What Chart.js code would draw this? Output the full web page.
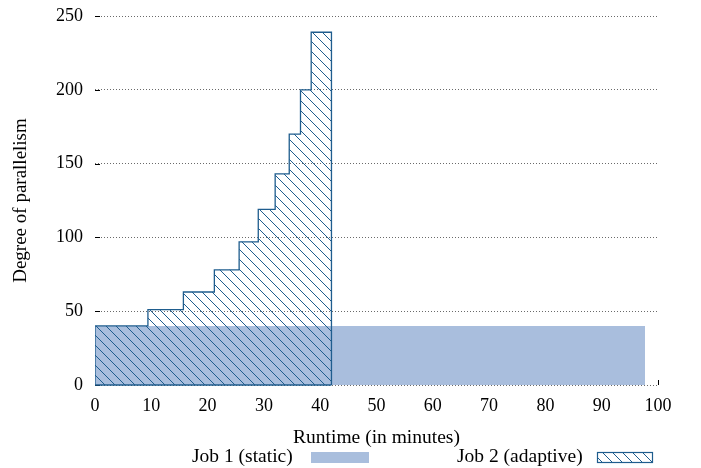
<!DOCTYPE html>
<html>
<head>
<meta charset="utf-8">
<script src="https://cdn.jsdelivr.net/npm/chart.js@4.4.1/dist/chart.umd.min.js"></script>
<style>
  html, body { margin: 0; padding: 0; background: #fff; }
  #wrap { width: 701px; height: 468px; }
</style>
</head>
<body>
<div id="wrap"><canvas id="chart" width="701" height="468"></canvas></div>
<script>
// step starts (minutes) and degree of parallelism for the adaptive job
const adaptiveStarts = [0, 9.4, 15.7, 21.2, 25.6, 29, 32, 34.5, 36.5, 38.4]
const adaptiveLevels = [40, 51, 63, 78, 97, 119, 143, 170, 200, 239]
const adaptiveEnd = 42

// static job: constant parallelism until it finishes
const staticLevel = 40
const staticEnd = 97.7

const xTicks = [0, 10, 20, 30, 40, 50, 60, 70, 80, 90, 100]
const yTicks = [0, 50, 100, 150, 200, 250]
const legendLabels = ['Job 1 (static)', 'Job 2 (adaptive)']

const darkBlue = '#1f5d8e'
const lightBlue = '#a9bedd'
const serif = "'Liberation Serif', 'DejaVu Serif', serif"

function hatchPattern() {
  const c = document.createElement('canvas')
  c.width = 10
  c.height = 10
  const g = c.getContext('2d')
  g.strokeStyle = darkBlue
  g.lineWidth = 1
  g.beginPath()
  g.moveTo(-1, -1); g.lineTo(11, 11)
  g.moveTo(-1, 9); g.lineTo(1, 11)
  g.moveTo(9, -1); g.lineTo(11, 1)
  g.stroke()
  return g.createPattern(c, 'repeat')
}
const hatch = hatchPattern()

function adaptivePoints() {
  const pts = [{x: 0, y: 0}]
  adaptiveStarts.forEach((x, i) => pts.push({x: x, y: adaptiveLevels[i]}))
  pts.push({x: adaptiveEnd, y: adaptiveLevels[adaptiveLevels.length - 1]})
  pts.push({x: adaptiveEnd, y: 0})
  return pts
}

function staticPoints() {
  return [{x: 0, y: staticLevel}, {x: staticEnd, y: staticLevel}, {x: staticEnd, y: 0}]
}

// small tick marks pointing into the plot, drawn under the data
const innerTicks = {
  id: 'innerTicks',
  beforeDatasetsDraw(chart) {
    const {ctx, chartArea, scales} = chart
    ctx.save()
    ctx.strokeStyle = '#000'
    ctx.lineWidth = 1
    ctx.beginPath()
    yTicks.forEach(v => {
      const y = Math.round(scales.y.getPixelForValue(v)) + 0.5
      ctx.moveTo(chartArea.left, y)
      ctx.lineTo(chartArea.left + 5, y)
    })
    xTicks.forEach(v => {
      const x = Math.round(scales.x.getPixelForValue(v)) + 0.5
      ctx.moveTo(x, chartArea.bottom)
      ctx.lineTo(x, chartArea.bottom - 5)
    })
    ctx.stroke()
    ctx.restore()
  },
  afterDatasetsDraw(chart) {
    // closing edge along the bottom of the adaptive job
    const {ctx, scales} = chart
    const y = scales.y.getPixelForValue(0)
    ctx.save()
    ctx.strokeStyle = darkBlue
    ctx.lineWidth = 1.3
    ctx.beginPath()
    ctx.moveTo(scales.x.getPixelForValue(0), y)
    ctx.lineTo(scales.x.getPixelForValue(adaptiveEnd), y)
    ctx.stroke()
    ctx.restore()
  }
}

// legend with text first and the swatch after it
const sideLegend = {
  id: 'sideLegend',
  afterDraw(chart) {
    const {ctx} = chart
    ctx.save()
    ctx.font = '19.5px ' + serif
    ctx.fillStyle = '#000'
    ctx.textBaseline = 'middle'
    ctx.fillText(legendLabels[0], 192, 457)
    ctx.fillStyle = lightBlue
    ctx.fillRect(311, 452, 58, 11)
    ctx.fillStyle = '#000'
    ctx.fillText(legendLabels[1], 457, 457)
    ctx.fillStyle = hatch
    ctx.fillRect(597, 452, 56, 11)
    ctx.strokeStyle = darkBlue
    ctx.lineWidth = 1.2
    ctx.strokeRect(597.5, 452.5, 55, 10)
    ctx.restore()
  }
}

new Chart(document.getElementById('chart'), {
  type: 'line',
  data: {
    datasets: [
      {
        label: legendLabels[1],
        data: adaptivePoints(),
        stepped: 'before',
        borderColor: darkBlue,
        borderWidth: 1.3,
        backgroundColor: hatch,
        fill: 'origin',
        pointRadius: 0
      },
      {
        label: legendLabels[0],
        data: staticPoints(),
        stepped: 'before',
        borderWidth: 0,
        borderColor: 'rgba(0,0,0,0)',
        backgroundColor: lightBlue,
        fill: 'origin',
        pointRadius: 0
      }
    ]
  },
  options: {
    responsive: false,
    animation: false,
    layout: { padding: { left: 0, right: 43, top: 16, bottom: 0 } },
    plugins: {
      legend: { display: false },
      tooltip: { enabled: false }
    },
    scales: {
      x: {
        type: 'linear',
        min: 0,
        max: 100,
        afterBuildTicks: axis => { axis.ticks = xTicks.map(v => ({value: v})) },
        afterFit: axis => { axis.height = 83; axis.paddingLeft = 0; axis.paddingRight = 0 },
        grid: { display: false, drawTicks: false },
        border: { display: false },
        ticks: { color: '#000', padding: 10, font: { family: serif, size: 18 }, maxRotation: 0 },
        title: {
          display: true,
          text: 'Runtime (in minutes)',
          color: '#000',
          font: { family: serif, size: 19.5 },
          padding: { top: 0, bottom: 18 }
        }
      },
      y: {
        min: 0,
        max: 250,
        afterBuildTicks: axis => { axis.ticks = yTicks.map(v => ({value: v})) },
        afterFit: axis => { axis.width = 95; axis.paddingTop = 0; axis.paddingBottom = 0 },
        grid: {
          drawTicks: false,
          color: '#444',
          lineWidth: 0.8,
          borderDash: [1, 2]
        },
        border: { display: false, dash: [1, 2] },
        ticks: { color: '#000', padding: 12, font: { family: serif, size: 18 } },
        title: {
          display: true,
          text: 'Degree of parallelism',
          color: '#000',
          font: { family: serif, size: 19 },
          padding: { top: 10, bottom: 0 }
        }
      }
    }
  },
  plugins: [innerTicks, sideLegend]
})
</script>
</body>
</html>
